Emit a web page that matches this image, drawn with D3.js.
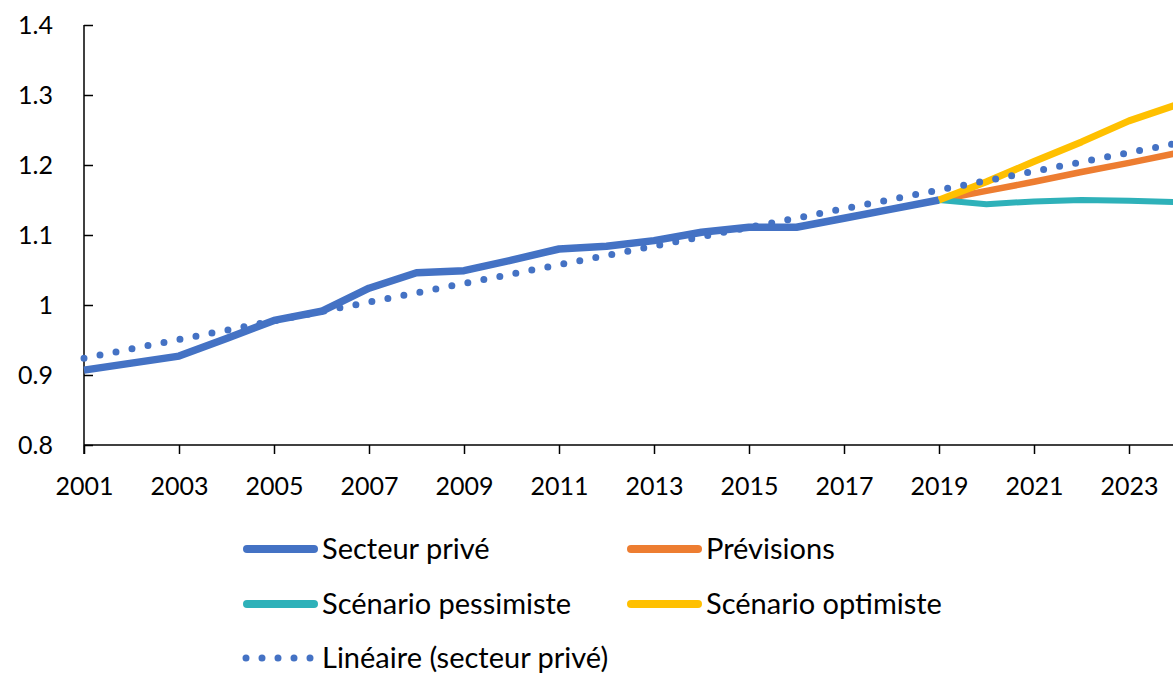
<!DOCTYPE html>
<html>
<head>
<meta charset="utf-8">
<script src="https://cdn.jsdelivr.net/npm/d3@7"></script>
<style>
  body { margin: 0; background: #fff; }
  svg { display: block; font-family: Lato, "Open Sans", sans-serif; }
</style>
</head>
<body>
<script>
// data
var yearsPrive = [2001, 2002, 2003, 2004, 2005, 2006, 2007, 2008, 2009, 2010,
                  2011, 2012, 2013, 2014, 2015, 2016, 2017, 2018, 2019];
var valPrive = [0.907, 0.917, 0.927, 0.952, 0.978, 0.991, 1.024, 1.046, 1.049, 1.064,
                1.080, 1.084, 1.092, 1.104, 1.111, 1.111, 1.124, 1.137, 1.150];

var yearsPrev = [2019, 2020, 2021, 2022, 2023, 2024];
var valPrevisions = [1.150, 1.163, 1.176, 1.190, 1.203, 1.217];
var valPessimiste = [1.150, 1.144, 1.148, 1.150, 1.149, 1.147];
var valOptimiste = [1.150, 1.176, 1.205, 1.233, 1.263, 1.286];

// linear trendline of secteur privé (end points)
var trendYears = [2001, 2024];
var trendValues = [0.924, 1.231];

var xTicks = [2001, 2003, 2005, 2007, 2009, 2011, 2013, 2015, 2017, 2019, 2021, 2023];
var yTicks = [0.8, 0.9, 1, 1.1, 1.2, 1.3, 1.4];

var legendLabels = ["Secteur privé", "Prévisions", "Scénario pessimiste", "Scénario optimiste", "Linéaire (secteur privé)"];

var width = 1173, height = 673;
var plotLeft = 84, plotRight = 1176.5, plotTop = 25, plotBottom = 445;

var blue = "#4472C4", orange = "#ED7D31", teal = "#2EB1B9", yellow = "#FFC000";

var svg = d3.select("body").append("svg")
    .attr("width", width)
    .attr("height", height);

var xScale = d3.scaleLinear().domain([2001, 2024]).range([plotLeft, plotRight]);
var yScale = d3.scaleLinear().domain([0.8, 1.4]).range([plotBottom, plotTop]);

// axes
var yAxis = svg.append("g")
    .attr("transform", "translate(" + plotLeft + ",0)")
    .call(d3.axisLeft(yScale).tickValues(yTicks).tickSize(-9).tickPadding(31)
        .tickFormat(function(d) { return String(d); }));

var xAxis = svg.append("g")
    .attr("transform", "translate(0," + plotBottom + ")")
    .call(d3.axisBottom(xScale).tickValues(xTicks).tickSize(9).tickPadding(23)
        .tickFormat(function(d) { return String(d); }));

[yAxis, xAxis].forEach(function(ax) {
    ax.select(".domain").attr("stroke", "#000").attr("stroke-width", 1.5);
    ax.selectAll(".tick line").attr("stroke", "#000").attr("stroke-width", 1.5);
    ax.selectAll(".tick text")
        .attr("fill", "#000")
        .style("font-size", "25px")
        .style("font-family", "Lato, 'Open Sans', sans-serif");
});
// x domain path without the outer tick at the right end
xAxis.select(".domain").attr("d", "M" + plotLeft + ",0H" + plotRight);
yAxis.select(".domain").attr("d", "M0," + plotTop + "V" + (plotBottom + 9));

var line = d3.line()
    .x(function(d) { return xScale(d[0]); })
    .y(function(d) { return yScale(d[1]); });

function drawSeries(years, vals, color, w) {
    svg.append("path")
        .datum(d3.zip(years, vals))
        .attr("fill", "none")
        .attr("stroke", color)
        .attr("stroke-width", w)
        .attr("stroke-linejoin", "round")
        .attr("d", line);
}

drawSeries(yearsPrive, valPrive, blue, 7.5);
drawSeries(yearsPrev, valPrevisions, orange, 6.5);
drawSeries(yearsPrev, valPessimiste, teal, 6);
drawSeries(yearsPrev, valOptimiste, yellow, 7);

svg.append("path")
    .datum(d3.zip(trendYears, trendValues))
    .attr("fill", "none")
    .attr("stroke", blue)
    .attr("stroke-width", 7)
    .attr("stroke-linecap", "round")
    .attr("stroke-dasharray", "0 16.3")
    .attr("d", line);

// legend
var legendItems = [
    {label: legendLabels[0], color: blue, x: 243, y: 549, dotted: false},
    {label: legendLabels[1], color: orange, x: 627, y: 549, dotted: false},
    {label: legendLabels[2], color: teal, x: 243, y: 604, dotted: false},
    {label: legendLabels[3], color: yellow, x: 627, y: 604, dotted: false},
    {label: legendLabels[4], color: blue, x: 243, y: 658, dotted: true}
];

var leg = svg.selectAll(".legend")
    .data(legendItems)
    .enter().append("g")
    .attr("class", "legend");

leg.append("line")
    .attr("x1", function(d) { return d.dotted ? d.x + 3 : d.x + 4; })
    .attr("x2", function(d) { return d.x + 71; })
    .attr("y1", function(d) { return d.y; })
    .attr("y2", function(d) { return d.y; })
    .attr("stroke", function(d) { return d.color; })
    .attr("stroke-width", function(d) { return d.dotted ? 7 : 8; })
    .attr("stroke-linecap", "round")
    .attr("stroke-dasharray", function(d) { return d.dotted ? "0 16" : null; });

leg.append("text")
    .attr("x", function(d) { return d.x + 79; })
    .attr("y", function(d) { return d.y; })
    .attr("dy", "0.36em")
    .attr("fill", "#000")
    .style("font-size", "29px")
    .text(function(d) { return d.label; });
</script>
</body>
</html>
